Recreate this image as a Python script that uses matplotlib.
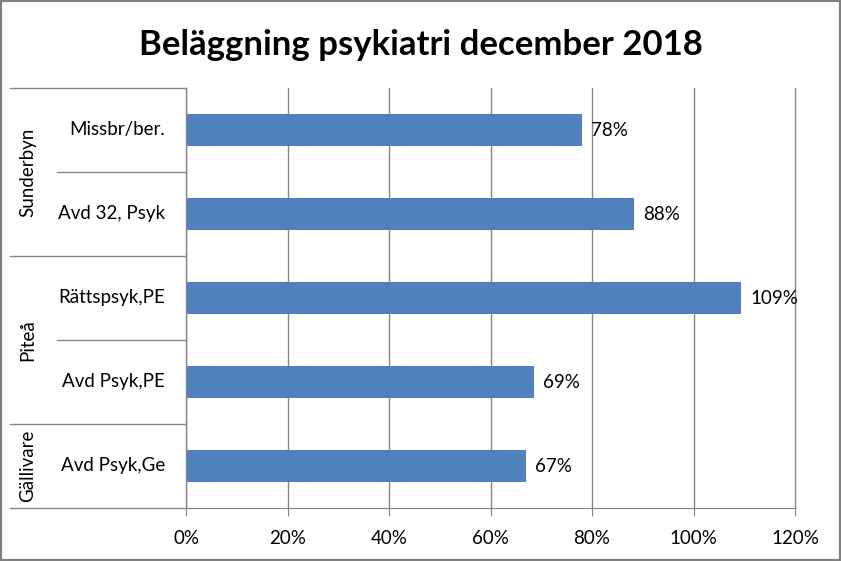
import matplotlib
matplotlib.use("Agg")
import matplotlib.pyplot as plt
from matplotlib.patches import Rectangle
from matplotlib.ticker import FuncFormatter

plt.rcParams['font.family'] = ['Lato', 'DejaVu Sans']

title = "Beläggning psykiatri december 2018"
categories = ["Missbr/ber.", "Avd 32, Psyk", "Rättspsyk,PE", "Avd Psyk,PE", "Avd Psyk,Ge"]
values = [78.0, 88.2, 109.4, 68.6, 67.0]
value_labels = ["78%", "88%", "109%", "69%", "67%"]
groups = ["Sunderbyn", "Piteå", "Gällivare"]
group_sizes = [2, 2, 1]
xticks = [0, 20, 40, 60, 80, 100, 120]

W, H = 841, 561
fig = plt.figure(figsize=(W / 100, H / 100), dpi=100)
fig.patch.set_facecolor("white")
fig.patches.append(Rectangle((0, 0), 1, 1, transform=fig.transFigure,
                             fill=False, edgecolor="#7f7f7f", linewidth=3))

L, R, T, B = 186, 795, 88, 508
ax = fig.add_axes([L / W, 1 - B / H, (R - L) / W, (B - T) / H])

fs = 13.5
pos = list(range(len(categories)))
ax.barh(pos, values, height=0.38, color="#4F81BD", zorder=3)
ax.set_ylim(len(categories) - 0.5, -0.5)
ax.set_xlim(0, 120)
ax.set_xticks(xticks)
ax.xaxis.set_major_formatter(FuncFormatter(lambda v, p: f"{int(v)}%"))
ax.grid(axis="x", color="#868686", linewidth=1, zorder=0, clip_on=False)
for s in ["top", "right", "left"]:
    ax.spines[s].set_visible(False)
ax.spines["bottom"].set_color("#868686")
ax.tick_params(axis="x", direction="out", length=6, color="#868686",
               labelsize=fs, pad=10)
ax.tick_params(axis="y", left=False, labelleft=False)
ax.axvline(0, color="#868686", linewidth=1, zorder=4)

for p, v, lab in zip(pos, values, value_labels):
    ax.text(v + 1.8, p, lab, va="center", ha="left", fontsize=fs, zorder=5)

tr = ax.get_yaxis_transform()
px = lambda x: (x - L) / (R - L)
for p, c in zip(pos, categories):
    ax.text(px(165), p, c, transform=tr, ha="right", va="center", fontsize=fs,
            clip_on=False)

# separators
start = -0.5
ax.plot([px(10), 0], [start, start], transform=tr, color="#868686", lw=1, clip_on=False)
for g, n in zip(groups, group_sizes):
    for k in range(1, n):
        y = start + k
        ax.plot([px(57), 0], [y, y], transform=tr, color="#868686", lw=1, clip_on=False)
    end = start + n
    ax.plot([px(10), 0], [end, end], transform=tr, color="#868686", lw=1, clip_on=False)
    ax.text(px(28), (start + end) / 2, g, transform=tr, rotation=90,
            ha="center", va="center", fontsize=fs, clip_on=False)
    start = end

fig.text(0.5, 1 - 45 / H, title, ha="center", va="center", fontsize=25,
         fontweight="bold")

fig.savefig("out.png", dpi=100)
